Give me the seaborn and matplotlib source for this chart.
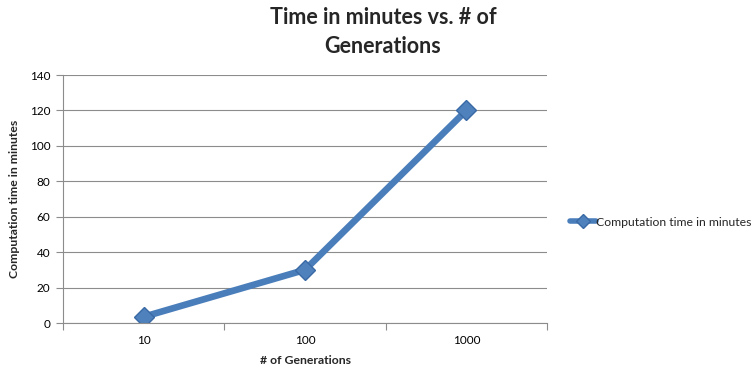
import matplotlib
matplotlib.use("Agg")
import matplotlib.pyplot as plt
import seaborn as sns
import pandas as pd
from matplotlib.lines import Line2D

generations = ["10", "100", "1000"]
minutes = [3.5, 30, 120]
series_name = "Computation time in minutes"
y_ticks = [0, 20, 40, 60, 80, 100, 120, 140]

sns.set_theme(style="white")
plt.rcParams['font.family'] = ['Lato', 'DejaVu Sans']

df = pd.DataFrame({"gen": generations, "min": minutes})

fig = plt.figure(figsize=(7.55, 3.69), dpi=100)
ax = fig.add_axes([63/755, 1-323/369, (547-63)/755, (323-75)/369])

line_color = "#4a7ebb"
sns.lineplot(data=df, x="gen", y="min", ax=ax, color=line_color, linewidth=4.8,
             marker="D", markersize=10, markeredgecolor="#3a6aa5", markeredgewidth=1,
             markerfacecolor="#4f81bd", sort=False)

ax.set_xlim(-0.5, 2.5)
ax.set_ylim(0, 140)
ax.set_yticks(y_ticks)
ax.yaxis.grid(True, color="#8c8c8c", linewidth=0.8)
ax.xaxis.grid(False)
ax.set_axisbelow(True)
for s in ["top", "right"]:
    ax.spines[s].set_visible(False)
for s in ["left", "bottom"]:
    ax.spines[s].set_color("#8c8c8c")
    ax.spines[s].set_linewidth(0.8)

ax.set_xticks([0, 1, 2])
ax.set_xticklabels(generations)
ax.set_xticks([-0.5, 0.5, 1.5, 2.5], minor=True)
ax.tick_params(axis="x", which="major", length=0, labelsize=8.5, pad=9, colors="black")
ax.tick_params(axis="x", which="minor", length=5, width=0.8, color="#8c8c8c", direction="out", bottom=True)
ax.tick_params(axis="y", length=5, width=0.8, color="#8c8c8c", direction="out", left=True,
               labelsize=8.5, pad=4, labelcolor="black")

ax.set_xlabel("# of Generations", fontsize=8.8, fontweight="bold", labelpad=6)
ax.set_ylabel("Computation time in minutes", fontsize=8.8, fontweight="bold", labelpad=7)

fig.text(383/755, 1-32/369, "Time in minutes vs. # of\nGenerations", ha="center", va="center",
         fontsize=15.5, fontweight="bold", linespacing=1.45)

handle = Line2D([], [], color=line_color, linewidth=4, marker="D", markersize=7,
                markerfacecolor="#4f81bd", markeredgecolor="#3a6aa5")
fig.legend([handle], [series_name], loc="center left", bbox_to_anchor=(564/755, 1-222/369),
           frameon=False, fontsize=8.8, handlelength=2.1, handletextpad=0.0, borderpad=0)

fig.savefig("out.png", dpi=100)
